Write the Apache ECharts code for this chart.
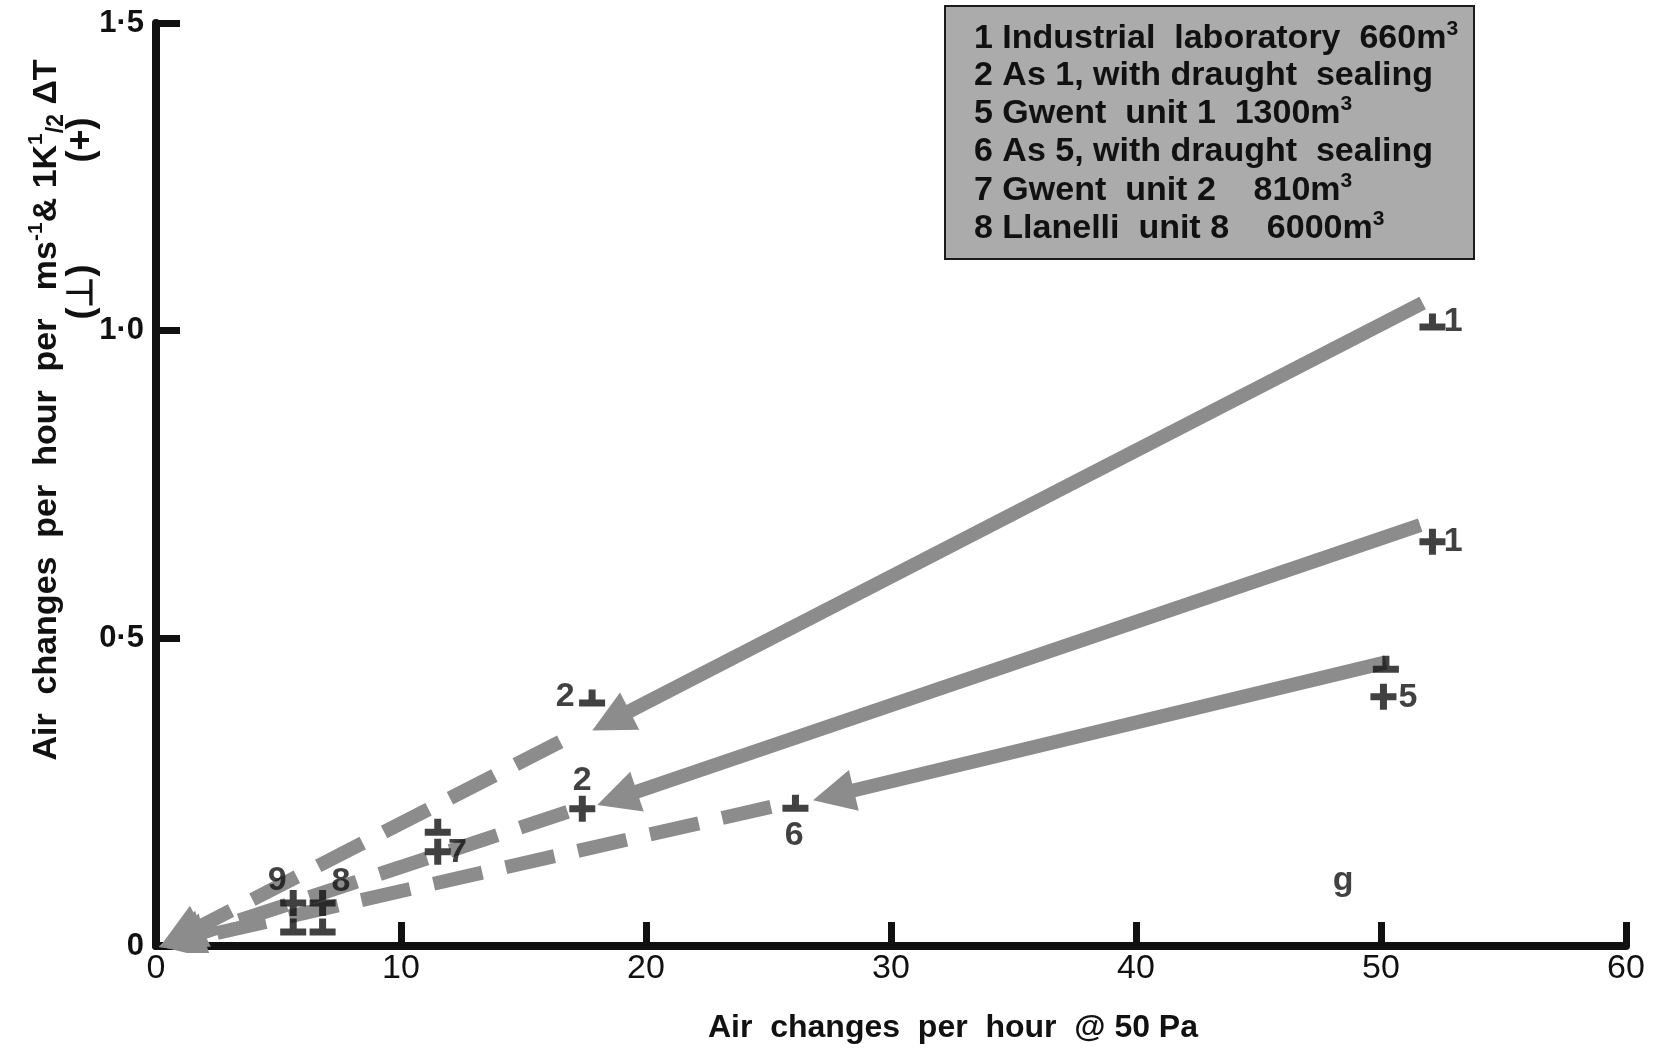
<!DOCTYPE html>
<html><head><meta charset="utf-8">
<script src="https://cdn.jsdelivr.net/npm/echarts@6/dist/echarts.min.js"></script>
<style>html,body{margin:0;padding:0;background:#fff}#c{width:1656px;height:1050px}</style>
</head><body><div id="c"></div>
<script>
// ---- axis ticks ----
const xTickValues = [0, 10, 20, 30, 40, 50, 60];
const xTickLabels = ['0', '10', '20', '30', '40', '50', '60'];
const yTickValues = [0, 0.5, 1.0, 1.5];
const yTickLabels = ['0', '0·5', '1·0', '1·5'];

// ---- ⊥ markers (per m s^-1) [x, y] ----
const perpPoints = [[52.1, 1.014], [50.2, 0.458], [17.8, 0.403], [26.1, 0.232], [11.5, 0.193], [5.6, 0.031], [6.8, 0.031]];
// ---- + markers (per 1K^1/2 ΔT) [x, y] ----
const plusPoints = [[52.1, 0.657], [50.1, 0.405], [17.4, 0.223], [11.5, 0.153], [5.6, 0.070], [6.8, 0.070]];
// ---- solid arrows (start -> head) ----
const solidArrows = [
  [[51.7, 1.045], [18.57, 0.366]],
  [[51.6, 0.684], [18.82, 0.240]],
  [[50.2, 0.461], [27.65, 0.245]]
];
// ---- dashed arrows to origin ----
const dashedArrows = [
  [[16.5, 0.332], [0.98, 0.015]],
  [[16.8, 0.218], [1.00, 0.010]],
  [[25.1, 0.226], [1.04, 0.008]]
];
// ---- point labels [x, y, text] ----
const pointLabels = [
  [52.95, 1.014, '1'], [52.95, 0.657, '1'], [51.1, 0.403, '5'], [16.7, 0.405, '2'],
  [17.4, 0.268, '2'], [26.05, 0.180, '6'], [12.3, 0.151, '7'], [4.95, 0.106, '9'],
  [7.55, 0.104, '8'], [48.45, 0.107, 'g']
];
// ---- key text ----
const keyLines = [
  '1 Industrial  laboratory  660m{sup|3}',
  '2 As 1, with draught  sealing',
  '5 Gwent  unit 1  1300m{sup|3}',
  '6 As 5, with draught  sealing',
  '7 Gwent  unit 2    810m{sup|3}',
  '8 Llanelli  unit 8    6000m{sup|3}'
];
const xTitle = 'Air  changes  per  hour  @ 50 Pa';
const yTitle = 'Air  changes  per  hour  per   ms{sup|-1}& 1K{sup|1}{frac|/2} ΔT';
const yTitleSub1 = '(⊥)';
const yTitleSub2 = '(+)';

const FONT = 'Liberation Sans';
const GRAY = '#8c8c8c';
const INK = '#111111';

const chart = echarts.init(document.getElementById('c'), null, {renderer: 'canvas'});

const supRich = {
  sup: {fontSize: 21, fontWeight: 'bold', fontFamily: FONT, fill: INK, verticalAlign: 'top', lineHeight: 20},
  frac: {fontSize: 23, fontWeight: 'bold', fontFamily: FONT, fill: INK, verticalAlign: 'bottom', lineHeight: 32}
};

const keyTop = [39, 76, 114, 152, 191, 229];

const option = {
  animation: false,
  backgroundColor: '#ffffff',
  grid: {left: 156, right: 30, top: 23, bottom: 104, outerBoundsMode: 'none', containLabel: false},
  xAxis: {
    type: 'value', min: 0, max: 60, interval: 10,
    name: xTitle, nameLocation: 'middle', nameGap: 66,
    nameTextStyle: {fontFamily: FONT, fontSize: 32, fontWeight: 'bold', color: INK, padding: [0, 0, 0, 124]},
    axisLine: {show: true, lineStyle: {color: INK, width: 8}},
    axisTick: {show: true, inside: true, length: 24, lineStyle: {color: INK, width: 7}},
    axisLabel: {
      fontFamily: FONT, fontSize: 34, color: INK, margin: 6,
      formatter: v => { const i = xTickValues.indexOf(v); return i >= 0 ? xTickLabels[i] : ''; }
    },
    splitLine: {show: false}
  },
  yAxis: {
    type: 'value', min: 0, max: 1.5, interval: 0.5,
    axisLine: {show: true, lineStyle: {color: INK, width: 8}},
    axisTick: {show: true, inside: true, length: 24, lineStyle: {color: INK, width: 7}},
    axisLabel: {
      fontFamily: FONT, fontSize: 31, fontWeight: 'bold', color: INK, margin: 12,
      formatter: v => { const i = yTickValues.findIndex(t => Math.abs(t - v) < 1e-9); return i >= 0 ? yTickLabels[i] : ''; }
    },
    splitLine: {show: false}
  },
  series: [
    {
      type: 'lines', coordinateSystem: 'cartesian2d', z: 1,
      symbol: ['none', 'triangle'], symbolSize: [38, 42],
      lineStyle: {color: GRAY, width: 14, opacity: 1, type: 'solid'},
      data: solidArrows.map(c => ({coords: c}))
    },
    {
      type: 'lines', coordinateSystem: 'cartesian2d', z: 1,
      symbol: ['none', 'triangle'], symbolSize: [36, 46],
      lineStyle: {color: GRAY, width: 14, opacity: 1, type: [50, 24]},
      data: dashedArrows.map(c => ({coords: c}))
    },
    {
      type: 'scatter', z: 3,
      symbol: 'path://M9.5,0H16.5V10H26V17H0V10H9.5Z', symbolSize: [26, 17],
      itemStyle: {color: INK},
      data: perpPoints
    },
    {
      type: 'scatter', z: 3,
      symbol: 'path://M9.5,0H16.5V9.5H26V16.5H16.5V26H9.5V16.5H0V9.5H9.5Z', symbolSize: [26, 26],
      itemStyle: {color: INK},
      data: plusPoints
    },
    {
      type: 'scatter', z: 4, symbolSize: 0, silent: true,
      label: {show: true, position: 'inside', formatter: p => p.value[2],
        fontFamily: FONT, fontSize: 34, fontWeight: 'bold', color: INK},
      data: pointLabels
    }
  ],
  graphic: [
    {
      type: 'group', z: 10,
      children: [
        {type: 'rect', shape: {x: 945, y: 6, width: 529, height: 253},
          style: {fill: '#ababab', stroke: '#1a1a1a', lineWidth: 2}}
      ].concat(keyLines.map((t, i) => ({
        type: 'text', x: 974, y: keyTop[i],
        style: {text: t, rich: supRich, fontFamily: FONT, fontSize: 34, fontWeight: 'bold', fill: INK,
          lineHeight: 40, align: 'left', verticalAlign: 'middle', textAlign: 'left', textVerticalAlign: 'middle'}
      })))
    },
    {
      type: 'text', x: 47, y: 410, rotation: Math.PI / 2, z: 10,
      style: {text: yTitle, rich: supRich, fontFamily: FONT, fontSize: 34, fontWeight: 'bold', fill: INK,
        lineHeight: 42, align: 'center', verticalAlign: 'middle', textAlign: 'center', textVerticalAlign: 'middle'}
    },
    {
      type: 'text', x: 82, y: 292, rotation: Math.PI / 2, z: 10,
      style: {text: yTitleSub1, fontFamily: FONT, fontSize: 36, fontWeight: 'bold', fill: INK,
        align: 'center', verticalAlign: 'middle', textAlign: 'center', textVerticalAlign: 'middle'}
    },
    {
      type: 'text', x: 82, y: 140, rotation: Math.PI / 2, z: 10,
      style: {text: yTitleSub2, fontFamily: FONT, fontSize: 36, fontWeight: 'bold', fill: INK,
        align: 'center', verticalAlign: 'middle', textAlign: 'center', textVerticalAlign: 'middle'}
    }
  ]
};
chart.setOption(option);
</script></body></html>
